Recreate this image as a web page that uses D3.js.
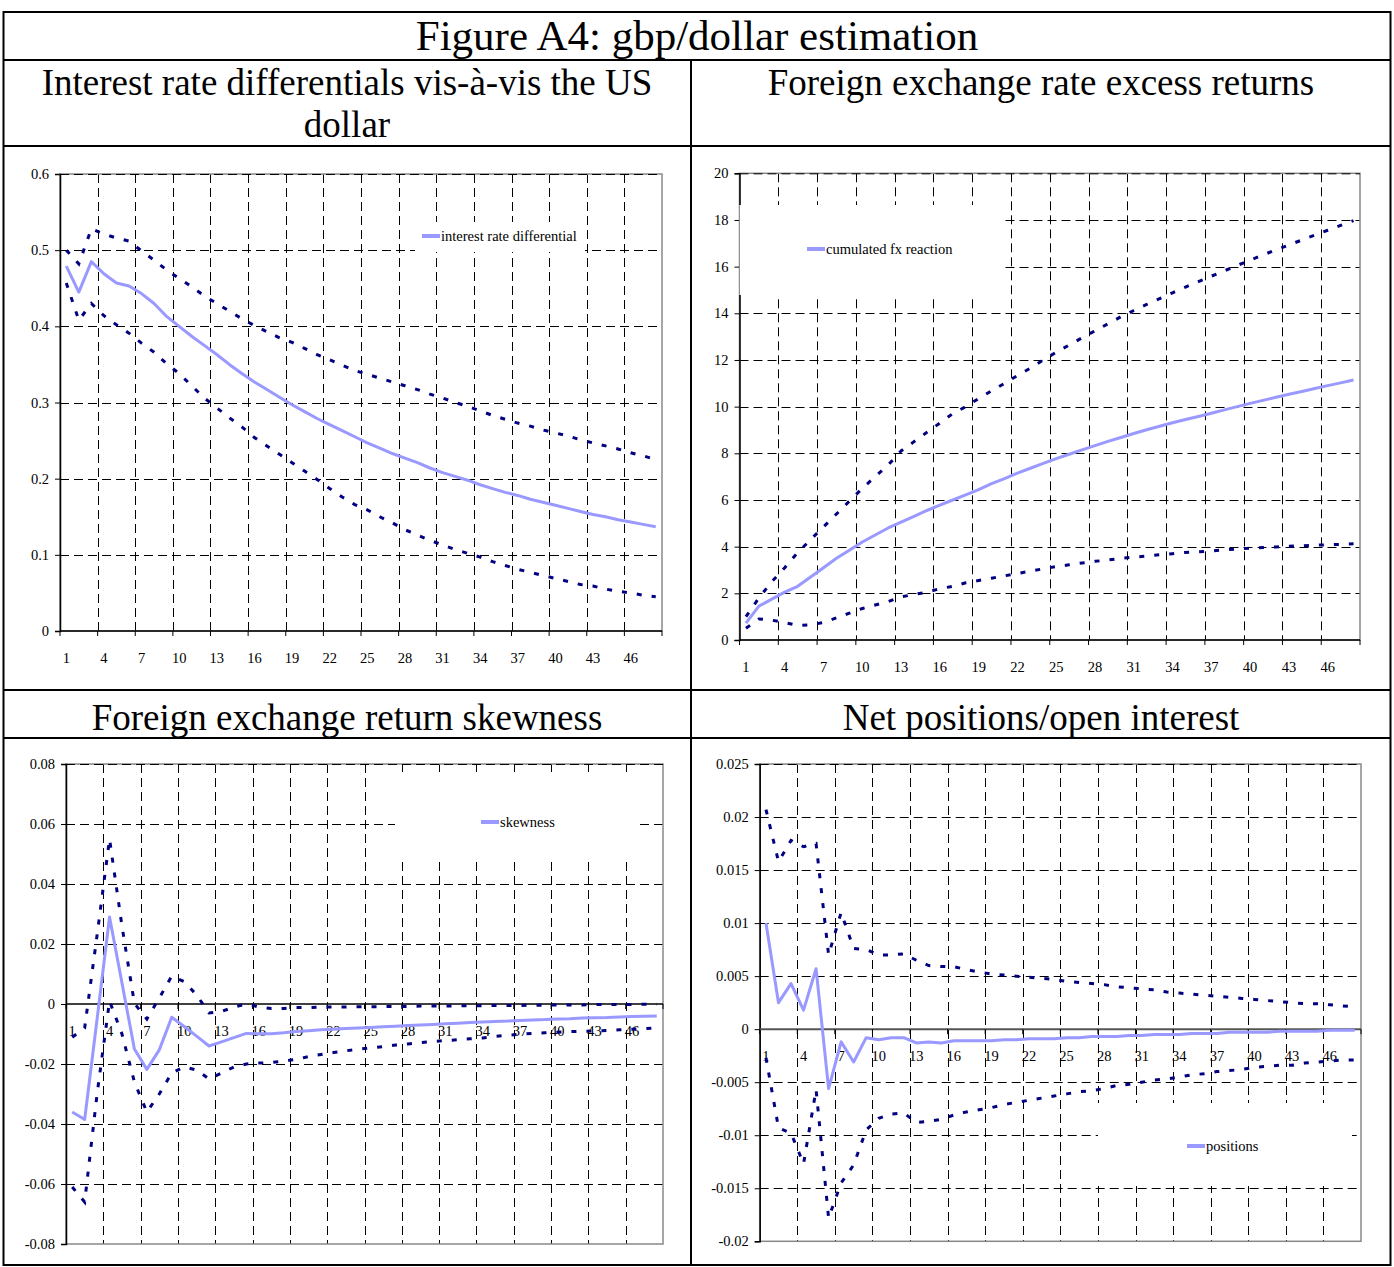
<!DOCTYPE html>
<html>
<head>
<meta charset="utf-8">
<script src="https://cdn.jsdelivr.net/npm/d3@7"></script>
<style>
  body { margin: 0; background: #fff; }
  text { font-family: "Liberation Serif", "Times New Roman", serif; fill: #000; }
</style>
</head>
<body>
<div id="chart"></div>
<script>
// horizon (periods after the shock)
const periods = d3.range(1, 49);

// panel 1: interest rate differential
const rateDiff = [0.479, 0.445, 0.485, 0.469, 0.457, 0.453, 0.443, 0.430, 0.413, 0.400,
  0.387, 0.375, 0.363, 0.350, 0.338, 0.327, 0.317, 0.307, 0.297, 0.288,
  0.279, 0.271, 0.263, 0.255, 0.247, 0.240, 0.233, 0.227, 0.221, 0.214,
  0.208, 0.203, 0.198, 0.192, 0.187, 0.182, 0.178, 0.173, 0.169, 0.165,
  0.161, 0.157, 0.153, 0.150, 0.146, 0.143, 0.140, 0.137];
const rateUpper = [0.500, 0.482, 0.528, 0.521, 0.516, 0.512, 0.499, 0.487, 0.474, 0.463,
  0.452, 0.440, 0.430, 0.420, 0.410, 0.401, 0.393, 0.385, 0.379, 0.371,
  0.363, 0.356, 0.349, 0.342, 0.337, 0.332, 0.327, 0.322, 0.317, 0.311,
  0.306, 0.300, 0.295, 0.289, 0.283, 0.278, 0.273, 0.269, 0.264, 0.260,
  0.256, 0.251, 0.247, 0.243, 0.239, 0.234, 0.230, 0.225];
const rateLower = [0.457, 0.408, 0.430, 0.414, 0.402, 0.391, 0.378, 0.366, 0.351, 0.338,
  0.322, 0.306, 0.293, 0.280, 0.268, 0.254, 0.243, 0.232, 0.221, 0.210,
  0.199, 0.187, 0.176, 0.166, 0.159, 0.150, 0.142, 0.133, 0.126, 0.119,
  0.113, 0.107, 0.102, 0.097, 0.091, 0.086, 0.081, 0.077, 0.073, 0.069,
  0.065, 0.061, 0.059, 0.055, 0.052, 0.050, 0.047, 0.045];

// panel 2: cumulated fx reaction
const fxReaction = [0.72, 1.45, 1.75, 2.05, 2.30, 2.70, 3.10, 3.50, 3.85, 4.20,
  4.50, 4.80, 5.05, 5.30, 5.55, 5.78, 6.00, 6.22, 6.44, 6.70,
  6.92, 7.15, 7.36, 7.57, 7.77, 7.96, 8.15, 8.33, 8.51, 8.68,
  8.85, 9.01, 9.16, 9.31, 9.45, 9.58, 9.72, 9.86, 10.00, 10.14,
  10.27, 10.40, 10.53, 10.65, 10.78, 10.90, 11.02, 11.14];
const fxUpper = [1.00, 1.80, 2.50, 3.10, 3.75, 4.30, 4.85, 5.40, 5.95, 6.50,
  7.00, 7.50, 8.10, 8.50, 8.90, 9.30, 9.70, 10.00, 10.35, 10.68,
  11.00, 11.33, 11.65, 12.00, 12.33, 12.64, 12.95, 13.25, 13.55, 13.85,
  14.12, 14.38, 14.63, 14.88, 15.12, 15.36, 15.59, 15.82, 16.05, 16.28,
  16.50, 16.72, 16.93, 17.14, 17.35, 17.56, 17.77, 17.97];
const fxLower = [0.50, 0.90, 0.85, 0.75, 0.62, 0.65, 0.75, 0.95, 1.15, 1.35,
  1.50, 1.65, 1.85, 1.95, 2.05, 2.20, 2.30, 2.45, 2.55, 2.65,
  2.75, 2.85, 2.95, 3.05, 3.15, 3.22, 3.30, 3.37, 3.43, 3.50,
  3.55, 3.60, 3.65, 3.70, 3.75, 3.78, 3.82, 3.86, 3.90, 3.93,
  3.96, 3.99, 4.02, 4.04, 4.06, 4.08, 4.10, 4.12];

// panel 3: skewness
const skew = [-0.0360, -0.0385, -0.0050, 0.0290, 0.0070, -0.0150, -0.0218, -0.0153, -0.0044, -0.0075,
  -0.0107, -0.0140, -0.0126, -0.0112, -0.0098, -0.0099, -0.0099, -0.0096, -0.0092, -0.0089,
  -0.0086, -0.0084, -0.0082, -0.0080, -0.0078, -0.0076, -0.0074, -0.0072, -0.0070, -0.0068,
  -0.0066, -0.0064, -0.0062, -0.0060, -0.0058, -0.0057, -0.0055, -0.0053, -0.0052, -0.0050,
  -0.0049, -0.0047, -0.0046, -0.0045, -0.0043, -0.0042, -0.0041, -0.0040];
const skewUpper = [-0.0111, -0.0080, 0.0230, 0.0550, 0.0260, 0.0002, -0.0050, 0.0020, 0.0093, 0.0075,
  0.0030, -0.0030, -0.0025, -0.0010, 0.0000, -0.0010, -0.0015, -0.0015, -0.0012, -0.0012,
  -0.0010, -0.0010, -0.0010, -0.0009, -0.0009, -0.0009, -0.0008, -0.0008, -0.0007, -0.0007,
  -0.0007, -0.0006, -0.0006, -0.0006, -0.0005, -0.0005, -0.0005, -0.0004, -0.0004, -0.0003,
  -0.0003, -0.0003, -0.0002, -0.0002, -0.0002, -0.0002, -0.0001, -0.0001];
const skewLower = [-0.0610, -0.0660, -0.0300, 0.0010, -0.0100, -0.0260, -0.0360, -0.0300, -0.0230, -0.0210,
  -0.0220, -0.0250, -0.0230, -0.0210, -0.0200, -0.0197, -0.0195, -0.0190, -0.0185, -0.0175,
  -0.0168, -0.0162, -0.0156, -0.0151, -0.0146, -0.0142, -0.0137, -0.0133, -0.0129, -0.0125,
  -0.0122, -0.0119, -0.0116, -0.0113, -0.0108, -0.0104, -0.0101, -0.0098, -0.0096, -0.0094,
  -0.0092, -0.0091, -0.0090, -0.0088, -0.0086, -0.0084, -0.0082, -0.0080];

// panel 4: net positions / open interest
const positions = [0.0100, 0.0025, 0.0043, 0.0018, 0.0057, -0.0056, -0.0012, -0.0031, -0.0008, -0.0010,
  -0.0008, -0.0008, -0.0013, -0.0012, -0.0013, -0.0011, -0.0011, -0.0011, -0.0011, -0.0010,
  -0.0010, -0.0009, -0.0009, -0.0009, -0.0008, -0.0008, -0.0007, -0.0007, -0.0007, -0.0006,
  -0.0006, -0.0005, -0.0005, -0.0005, -0.0004, -0.0004, -0.0004, -0.0003, -0.0003, -0.0003,
  -0.0003, -0.0002, -0.0002, -0.0002, -0.0002, -0.0001, -0.0001, -0.0001];
const posUpper = [0.0207, 0.0158, 0.0178, 0.0172, 0.0175, 0.0070, 0.0110, 0.0076, 0.0075, 0.0070,
  0.0070, 0.0071, 0.0065, 0.0060, 0.0059, 0.0059, 0.0056, 0.0054, 0.0052, 0.0051,
  0.0050, 0.0049, 0.0048, 0.0047, 0.0045, 0.0044, 0.0043, 0.0042, 0.0040, 0.0039,
  0.0038, 0.0037, 0.0035, 0.0034, 0.0033, 0.0032, 0.0031, 0.0030, 0.0029, 0.0028,
  0.0027, 0.0026, 0.0025, 0.0024, 0.0024, 0.0023, 0.0022, 0.0021];
const posLower = [-0.0027, -0.0093, -0.0098, -0.0127, -0.0057, -0.0178, -0.0145, -0.0128, -0.0095, -0.0084,
  -0.0080, -0.0079, -0.0088, -0.0087, -0.0085, -0.0081, -0.0078, -0.0076, -0.0074, -0.0071,
  -0.0069, -0.0067, -0.0065, -0.0063, -0.0061, -0.0059, -0.0058, -0.0056, -0.0053, -0.0052,
  -0.0050, -0.0048, -0.0047, -0.0045, -0.0043, -0.0042, -0.0040, -0.0039, -0.0038, -0.0036,
  -0.0035, -0.0034, -0.0034, -0.0032, -0.0031, -0.0030, -0.0029, -0.0029];

// y tick values
const ticksRate = [0, 0.1, 0.2, 0.3, 0.4, 0.5, 0.6];
const ticksFx = [0, 2, 4, 6, 8, 10, 12, 14, 16, 18, 20];
const ticksSkew = [-0.08, -0.06, -0.04, -0.02, 0, 0.02, 0.04, 0.06, 0.08];
const ticksPos = [-0.02, -0.015, -0.01, -0.005, 0, 0.005, 0.01, 0.015, 0.02, 0.025];

const title = "Figure A4: gbp/dollar estimation";
const headers = [
  ["Interest rate differentials vis-à-vis the US", "dollar"],
  ["Foreign exchange rate excess returns"],
  ["Foreign exchange return skewness"],
  ["Net positions/open interest"]
];

const width = 1394, height = 1267;
const svg = d3.select("#chart").append("svg")
  .attr("width", width)
  .attr("height", height)
  .attr("viewBox", [0, 0, width, height]);

svg.append("rect").attr("width", width).attr("height", height).attr("fill", "#fff");

// 表格框线
const tbl = { left: 3.5, right: 1390.5, top: 12, bottom: 1265, mid: 691 };
const rows = [60, 146, 690, 738];
const frame = svg.append("g").attr("stroke", "#000").attr("stroke-width", 2);
frame.append("rect")
  .attr("x", tbl.left).attr("y", tbl.top)
  .attr("width", tbl.right - tbl.left).attr("height", tbl.bottom - tbl.top)
  .attr("fill", "none");
rows.forEach(y => frame.append("line").attr("x1", tbl.left).attr("x2", tbl.right).attr("y1", y).attr("y2", y));
frame.append("line").attr("x1", tbl.mid).attr("x2", tbl.mid).attr("y1", rows[0]).attr("y2", tbl.bottom);

svg.append("text")
  .attr("x", 697).attr("y", 50)
  .attr("text-anchor", "middle")
  .attr("font-size", 43)
  .text(title);

const colCenter = [347, 1041];
const headerY = [95, 730];
headers.forEach((lines, k) => {
  const t = svg.append("text")
    .attr("x", colCenter[k % 2])
    .attr("y", headerY[Math.floor(k / 2)])
    .attr("text-anchor", "middle")
    .attr("font-size", 37);
  lines.forEach((s, j) => t.append("tspan")
    .attr("x", colCenter[k % 2])
    .attr("dy", j ? 42 : 0)
    .text(s));
});

const fmt = v => String(+v.toFixed(3));

const panels = [
  { box: [60, 662, 174, 631], domain: [0, 0.6], ticks: ticksRate,
    mid: rateDiff, up: rateUpper, lo: rateLower,
    legend: { name: "interest rate differential", box: [415, 585, 222, 252], x: 422, y: 236 } },
  { box: [739.5, 1360, 173.3, 640], domain: [0, 20], ticks: ticksFx,
    mid: fxReaction, up: fxUpper, lo: fxLower,
    legend: { name: "cumulated fx reaction", box: [739.5, 1003, 205, 295], x: 807, y: 249 } },
  { box: [66, 663, 764, 1244], domain: [-0.08, 0.08], ticks: ticksSkew,
    mid: skew, up: skewUpper, lo: skewLower,
    legend: { name: "skewness", box: [395, 640, 772, 860], x: 481, y: 822 } },
  { box: [759.7, 1361, 764, 1241.3], domain: [-0.02, 0.025], ticks: ticksPos,
    mid: positions, up: posUpper, lo: posLower, zeroAxis: "#555",
    legend: { name: "positions", box: [1098, 1352, 1103, 1186], x: 1187, y: 1146 } }
];

panels.forEach(drawPanel);

function drawPanel(p) {
  const [x0, x1, y0, y1] = p.box;
  const x = d3.scaleBand().domain(periods).range([x0, x1]).padding(0);
  const y = d3.scaleLinear().domain(p.domain).range([y1, y0]);
  const cx = d => x(d) + x.bandwidth() / 2;
  const bw = x.bandwidth();
  const g = svg.append("g");

  // 网格
  const grid = g.append("g").attr("stroke", "#000").attr("stroke-width", 1)
    .attr("stroke-dasharray", "9,5");
  grid.selectAll("line.h")
    .data(p.ticks.filter(t => t !== 0 && t !== p.domain[0] && t !== p.domain[1]))
    .join("line")
    .attr("x1", x0).attr("x2", x1)
    .attr("y1", d => Math.round(y(d)) + 0.5).attr("y2", d => Math.round(y(d)) + 0.5);
  grid.selectAll("line.v")
    .data(periods.filter(d => d % 3 === 0 && d < periods.length))
    .join("line")
    .attr("x1", d => Math.round(x(d) + bw) + 0.5).attr("x2", d => Math.round(x(d) + bw) + 0.5)
    .attr("y1", y0).attr("y2", y1);

  // 绘图区边框
  g.append("rect")
    .attr("x", x0).attr("y", y0).attr("width", x1 - x0).attr("height", y1 - y0)
    .attr("fill", "none").attr("stroke", "#888").attr("stroke-width", 1.5);
  g.append("line").attr("x1", x0).attr("x2", x1).attr("y1", y0 + 0.5).attr("y2", y0 + 0.5)
    .attr("stroke", "#000").attr("stroke-dasharray", "9,5");

  // y 轴
  const yAxis = g.append("g").attr("transform", `translate(${x0},0)`)
    .call(d3.axisLeft(y).tickValues(p.ticks).tickFormat(fmt).tickSize(5).tickPadding(6));
  yAxis.select(".domain").attr("stroke", "#000").attr("stroke-width", 1.5);
  yAxis.selectAll("text").attr("font-size", 14.5)
    .attr("font-family", "Liberation Serif, Times New Roman, serif");

  // x 轴 (在 0 处)
  const zy = y(Math.max(p.domain[0], 0));
  const xAxis = g.append("g").attr("transform", `translate(0,${zy})`);
  xAxis.append("line").attr("x1", x0).attr("x2", x1)
    .attr("stroke", p.zeroAxis || "#000").attr("stroke-width", p.zeroAxis ? 2 : 1.5);
  xAxis.selectAll("line.tick")
    .data([0].concat(periods.filter(d => d % 3 === 0)))
    .join("line")
    .attr("x1", d => d === 0 ? x0 : x(d) + bw).attr("x2", d => d === 0 ? x0 : x(d) + bw)
    .attr("y1", 0).attr("y2", 5)
    .attr("stroke", "#000");
  xAxis.selectAll("text")
    .data(periods.filter(d => (d - 1) % 3 === 0))
    .join("text")
    .attr("x", cx).attr("y", 32)
    .attr("text-anchor", "middle")
    .attr("font-size", 14.5)
    .text(d => d);

  // 置信区间 + 估计
  const line = d3.line().x((d, i) => cx(periods[i])).y(d => y(d));
  [p.up, p.lo].forEach(arr => g.append("path")
    .datum(arr)
    .attr("d", line)
    .attr("fill", "none")
    .attr("stroke", "#000080")
    .attr("stroke-width", 3)
    .attr("stroke-dasharray", "5,10"));
  g.append("path")
    .datum(p.mid)
    .attr("d", line)
    .attr("fill", "none")
    .attr("stroke", "#9999FF")
    .attr("stroke-width", 3)
    .attr("stroke-linejoin", "round");

  // 图例
  const L = p.legend;
  g.append("rect")
    .attr("x", L.box[0]).attr("y", L.box[2])
    .attr("width", L.box[1] - L.box[0]).attr("height", L.box[3] - L.box[2])
    .attr("fill", "#fff");
  g.append("line")
    .attr("x1", L.x).attr("x2", L.x + 18).attr("y1", L.y).attr("y2", L.y)
    .attr("stroke", "#9999FF").attr("stroke-width", 4);
  g.append("text")
    .attr("x", L.x + 19).attr("y", L.y + 5)
    .attr("font-size", 14.5)
    .text(L.name);
}
</script>
</body>
</html>
